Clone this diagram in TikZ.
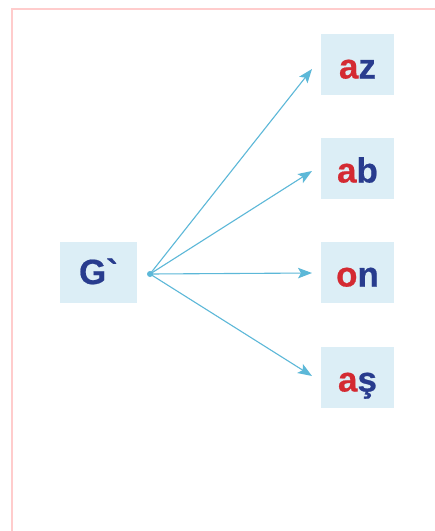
\documentclass[tikz,border=0pt]{standalone}
\usepackage{fontspec}
\setmainfont{Liberation Sans}
\newfontfamily\wordfont{Liberation Sans Bold}[FakeBold=0.6]
\usetikzlibrary{arrows.meta}
\definecolor{boxfill}{HTML}{DCEEF6}
\definecolor{txtblue}{HTML}{283C8E}
\definecolor{txtred}{HTML}{D42A32}
\definecolor{linecol}{HTML}{5CB8D8}
\definecolor{framecol}{HTML}{FFCCCC}
\begin{document}
\begin{tikzpicture}[x=1pt,y=-1pt,
  wordbox/.style={fill=boxfill,minimum width=73pt,minimum height=61pt,inner sep=0pt,
    text height=28pt,text depth=0pt,
    font=\wordfont\fontsize{35}{38}\selectfont,text=txtblue},
  conn/.style={draw=linecol,line width=1.1pt,-{Stealth[length=14pt,width=10.5pt,inset=3pt]}}]
\useasboundingbox (0,0) rectangle (435,531);
\fill[white] (0,0) rectangle (435,531);
\draw[framecol,line width=1.6pt] (12,540) -- (12,9) -- (445,9);
\node[wordbox,minimum width=77pt,text height=23pt] (g) at (98.5,272.5) {G\textasciigrave};
\node[wordbox] (az) at (357.5,64.5) {\textcolor{txtred}{a}z};
\node[wordbox] (ab) at (357.5,168.5) {\textcolor{txtred}{a}b};
\node[wordbox] (on) at (357.5,272.5) {\textcolor{txtred}{o}n};
\node[wordbox] (as) at (357.5,377.5) {\textcolor{txtred}{a}ş};
\coordinate (hub) at (150,274);
\coordinate (taz) at (312,69);
\coordinate (tab) at (312,171);
\coordinate (ton) at (312,273);
\coordinate (tas) at (312,376);
\draw[conn] (hub) -- (taz);
\draw[conn] (hub) -- (tab);
\draw[conn] (hub) -- (ton);
\draw[conn] (hub) -- (tas);
\fill[linecol] (hub) circle (3pt);
\end{tikzpicture}
\end{document}
